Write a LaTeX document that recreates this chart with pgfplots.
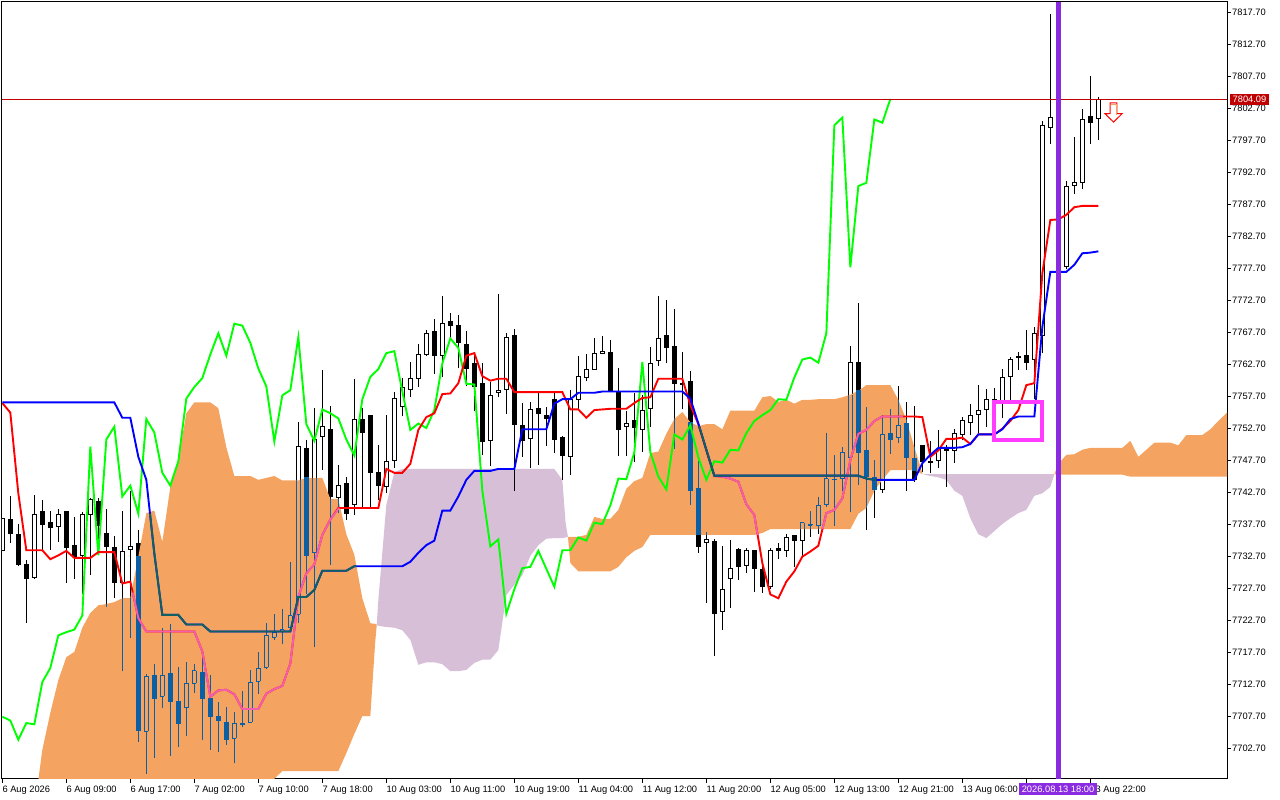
\documentclass[border=0pt]{standalone}
\usepackage{fontspec}
\setmainfont{Liberation Sans}
\usepackage{pgfplots}
\usepackage{pgfplotstable}
\pgfplotsset{compat=1.18}
\definecolor{cblue}{HTML}{0B5FA5}
\definecolor{corange}{HTML}{F4A460}
\definecolor{cthistle}{HTML}{D8BFD8}
\definecolor{cpink}{HTML}{F25FAE}
\definecolor{cteal}{HTML}{0F6060}
\definecolor{cviolet}{HTML}{8A2BE2}
\definecolor{cmag}{HTML}{FF3CFF}
\definecolor{cprice}{HTML}{C00000}
\newcommand\lbl{\fontsize{9.3}{11}\selectfont}

\pgfplotstableread{
k o h l c
0 7733.5 7738.6 7733.5 7738.6
1 7738.4 7742.1 7734.7 7736.2
2 7736.0 7737.7 7731.1 7731.3
3 7731.3 7732.1 7722.3 7729.2
4 7729.3 7742.2 7729.2 7739.2
5 7739.6 7741.5 7733.6 7737.6
6 7738.0 7739.7 7733.7 7737.1
7 7737.3 7740.0 7734.9 7739.2
8 7739.6 7739.6 7728.5 7734.0
9 7734.3 7738.8 7729.1 7732.6
10 7732.8 7739.6 7726.8 7739.2
11 7739.2 7741.7 7729.7 7741.6
12 7741.2 7741.7 7733.4 7737.4
13 7736.2 7740.0 7724.8 7734.2
14 7734.1 7735.8 7726.1 7728.5
15 7728.6 7739.7 7714.8 7733.4
16 7733.7 7742.9 7719.9 7734.2
17 7734.6 7736.7 7703.7 7705.4
18 7705.3 7714.3 7698.7 7713.9
19 7714.1 7715.8 7701.2 7710.4
20 7710.8 7721.4 7708.9 7714.1
21 7714.3 7722.1 7701.5 7709.9
22 7710.0 7715.3 7702.9 7706.5
23 7709.0 7716.1 7704.5 7712.8
24 7712.8 7715.8 7711.3 7714.8
25 7714.5 7716.7 7703.9 7710.4
26 7710.4 7714.1 7702.4 7707.6
27 7707.6 7709.9 7702.0 7707.0
28 7706.7 7709.1 7703.2 7704.0
29 7704.2 7708.3 7700.3 7706.6
30 7706.6 7711.6 7706.0 7706.4
31 7706.7 7714.9 7706.6 7713.0
32 7713.1 7717.7 7711.2 7715.2
33 7715.3 7722.2 7715.1 7720.3
34 7720.0 7723.6 7719.5 7720.8
35 7720.9 7724.4 7718.9 7721.2
36 7721.6 7731.7 7720.9 7723.4
37 7723.6 7753.7 7722.2 7749.8
38 7749.5 7750.8 7726.8 7732.8
39 7733.2 7755.9 7718.5 7750.9
40 7751.3 7761.8 7746.1 7752.9
41 7752.5 7756.2 7731.3 7742.0
42 7741.8 7746.9 7739.4 7743.7
43 7744.0 7745.1 7738.3 7739.3
44 7740.8 7760.4 7739.1 7754.1
45 7754.1 7755.8 7740.4 7752.0
46 7754.6 7754.6 7740.3 7745.7
47 7745.8 7750.0 7741.5 7743.7
48 7743.6 7754.7 7742.5 7747.5
49 7747.6 7758.3 7746.4 7757.3
50 7756.0 7760.5 7754.5 7759.1
51 7758.7 7763.0 7757.6 7760.5
52 7760.5 7765.8 7759.1 7764.2
53 7764.2 7768.0 7764.0 7767.5
54 7767.7 7769.7 7761.1 7764.0
55 7764.0 7773.3 7760.6 7769.0
56 7769.4 7770.6 7766.7 7768.7
57 7768.7 7770.4 7762.0 7766.0
58 7765.8 7767.9 7759.2 7762.0
59 7762.8 7764.6 7755.4 7759.2
60 7759.6 7762.8 7748.5 7750.6
61 7750.8 7759.9 7746.8 7757.8
62 7758.3 7773.7 7757.5 7758.6
63 7758.7 7767.5 7754.9 7766.9
64 7767.1 7768.1 7742.8 7753.3
65 7753.1 7756.6 7748.2 7750.7
66 7751.1 7756.7 7746.4 7755.6
67 7755.8 7758.2 7746.9 7755.0
68 7754.6 7756.0 7749.9 7754.2
69 7757.2 7758.1 7748.8 7750.9
70 7751.2 7751.4 7744.6 7748.4
71 7748.2 7758.7 7745.4 7757.2
72 7757.2 7764.0 7755.5 7760.7
73 7760.6 7764.3 7760.0 7761.9
74 7761.9 7766.7 7761.8 7764.4
75 7764.4 7767.1 7764.2 7764.7
76 7764.5 7766.4 7758.4 7758.4
77 7758.2 7762.0 7748.4 7752.4
78 7752.9 7755.3 7748.4 7753.4
79 7753.8 7758.2 7747.4 7752.7
80 7752.4 7757.9 7749.0 7755.5
81 7755.8 7765.3 7752.9 7762.8
82 7763.3 7773.3 7762.4 7766.7
83 7767.1 7772.7 7762.8 7765.2
84 7765.5 7771.3 7749.4 7759.6
85 7759.7 7764.6 7755.6 7759.5
86 7760.0 7761.6 7740.7 7742.9
87 7743.3 7747.5 7733.2 7734.2
88 7734.8 7736.5 7725.4 7735.3
89 7735.0 7735.3 7717.0 7723.7
90 7724.0 7734.2 7721.1 7727.5
91 7729.2 7735.2 7724.5 7730.8
92 7733.7 7734.0 7729.0 7731.0
93 7731.2 7733.9 7730.1 7733.5
94 7733.6 7733.6 7727.1 7730.7
95 7730.6 7731.6 7726.9 7727.9
96 7728.0 7733.9 7727.6 7733.6
97 7733.9 7734.8 7732.2 7733.6
98 7733.6 7736.1 7732.6 7735.6
99 7735.9 7736.0 7731.0 7735.1
100 7735.2 7737.9 7732.6 7737.9
101 7737.5 7739.8 7735.7 7737.7
102 7737.4 7741.9 7736.2 7740.6
103 7740.7 7751.9 7740.4 7744.8
104 7744.6 7748.5 7737.4 7744.7
105 7744.8 7749.7 7742.9 7748.9
106 7748.1 7765.5 7739.5 7763.0
107 7763.0 7772.2 7743.8 7748.9
108 7749.2 7756.0 7736.7 7745.1
109 7745.0 7747.7 7738.7 7743.1
110 7743.1 7754.7 7742.6 7751.7
111 7751.9 7755.6 7748.7 7750.9
112 7751.2 7759.2 7750.4 7753.1
113 7753.4 7756.8 7742.9 7748.1
114 7748.0 7756.1 7744.3 7744.6
115 7750.0 7750.0 7745.9 7747.5
116 7747.5 7750.7 7745.6 7747.3
117 7747.6 7752.4 7746.4 7749.3
118 7749.4 7750.0 7743.5 7749.2
119 7749.2 7752.6 7747.2 7751.9
120 7751.7 7754.4 7750.8 7753.8
121 7753.6 7756.5 7751.6 7754.7
122 7754.8 7759.4 7751.9 7755.5
123 7755.6 7758.8 7752.9 7757.2
124 7756.9 7758.9 7756.1 7757.1
125 7756.5 7761.9 7754.2 7760.6
126 7760.7 7763.8 7757.1 7763.4
127 7763.9 7764.5 7761.8 7763.7
128 7764.1 7768.0 7761.8 7762.9
129 7763.4 7768.5 7757.3 7767.5
130 7767.1 7800.7 7764.4 7800.0
131 7799.7 7817.4 7797.0 7801.2
132 7800.0 7803.0 7776.0 7777.8
133 7777.9 7791.3 7777.6 7790.5
134 7790.6 7798.2 7789.3 7791.0
135 7791.1 7802.6 7790.1 7800.9
136 7801.3 7807.7 7797.1 7800.4
137 7801.1 7804.4 7797.7 7804.1
}\candles

\pgfplotstableread{
k top bot
4 7693.0 7690
5 7702.4 7690
6 7708.2 7690
7 7713.3 7690
8 7716.9 7690
9 7717.7 7690
10 7721.5 7690
11 7723.8 7690
12 7725.0 7690
13 7725.2 7690
14 7725.5 7690
15 7726.1 7690
16 7726.1 7690
17 7732.6 7690
18 7739.4 7690
19 7739.8 7690
20 7734.9 7690
21 7743.5 7690
22 7747.7 7690
23 7755.0 7690
24 7756.7 7690
25 7756.7 7690
26 7756.7 7690
27 7755.8 7690
28 7749.7 7690
29 7745.2 7690
30 7745.2 7690
31 7745.2 7690
32 7744.6 7690
33 7744.9 7690
34 7745.2 7697.9
35 7744.5 7699.1
36 7744.5 7699.1
37 7744.5 7699.1
38 7744.9 7699.1
39 7744.9 7699.1
40 7744.9 7699.1
41 7741.6 7699.1
42 7741.6 7699.1
43 7736.1 7701.9
44 7732.9 7704.9
45 7726.1 7707.7
46 7722.2 7707.7
46.6 7722.1 7719.1
46.8 7722.0 7721.9
}\orangeA

\pgfplotstableread{
k top bot
46.8 7722.0 7721.9
47 7725.8 7721.8
48 7740.7 7721.6
49 7745.8 7721.5
50 7746.3 7721.1
51 7746.3 7719.6
52 7746.3 7715.7
53 7746.3 7716.1
54 7746.3 7716.1
55 7746.3 7715.8
56 7746.3 7714.7
57 7746.3 7714.7
58 7746.3 7714.9
59 7746.3 7716.0
60 7746.3 7716.5
61 7746.3 7716.5
62 7746.3 7718.0
63 7746.3 7726.6
64 7746.3 7728.2
65 7746.3 7729.7
66 7746.3 7732.7
67 7746.3 7734.4
68 7746.3 7735.4
69 7746.3 7735.5
70 7744.6 7735.5
70.4 7738.0 7735.6
70.7 7735.7 7735.7
}\thistleA

\pgfplotstableread{
k top bot
70.7 7735.7 7735.7
71 7735.7 7731.6
72 7735.7 7730.3
73 7736.0 7730.3
74 7738.8 7730.3
75 7738.5 7730.3
76 7738.5 7730.3
77 7739.9 7731.0
78 7743.2 7732.5
79 7744.4 7733.5
80 7744.9 7734.1
81 7748.8 7736.0
82 7749.0 7736.0
83 7751.8 7736.0
84 7754.1 7736.0
85 7755.2 7736.0
86 7753.6 7736.0
87 7753.0 7736.0
88 7753.3 7736.0
89 7753.3 7736.0
90 7752.5 7736.0
91 7755.4 7736.0
92 7755.4 7736.0
93 7755.4 7736.0
94 7755.4 7736.0
95 7757.5 7736.3
96 7757.7 7736.9
97 7756.8 7736.9
98 7757.1 7736.9
99 7756.5 7736.9
100 7757.1 7736.9
101 7757.1 7736.9
102 7757.2 7736.9
103 7757.2 7736.9
104 7757.2 7736.9
105 7757.5 7736.9
106 7757.9 7736.9
107 7758.5 7739.3
108 7759.4 7740.2
109 7759.4 7742.9
110 7759.4 7744.6
111 7759.4 7746.1
112 7757.1 7746.1
113 7754.0 7746.1
114 7749.7 7746.1
115 7745.7 7745.5
}\orangeB

\pgfplotstableread{
k top bot
115 7745.5 7745.5
116 7745.5 7745.2
117 7745.5 7745.0
118 7745.5 7744.6
119 7745.5 7742.9
120 7745.5 7742.1
121 7745.5 7738.6
122 7745.5 7736.1
123 7745.5 7735.5
124 7745.5 7736.6
125 7745.5 7737.7
126 7745.5 7738.6
127 7745.5 7739.4
128 7745.5 7739.9
129 7745.5 7742.1
130 7745.5 7742.5
131 7745.5 7743.5
131.5 7745.5 7745.5
}\thistleB

\pgfplotstableread{
k top bot
131.5 7745.5 7745.5
132 7747.1 7745.4
133 7748.5 7745.4
134 7748.6 7745.4
135 7749.3 7745.4
136 7749.6 7745.4
137 7749.6 7745.4
138 7749.6 7745.4
139 7749.6 7745.4
140 7749.6 7745.4
141 7750.7 7745.1
142 7748.2 7745.1
143 7749.3 7745.1
144 7750.4 7745.1
145 7750.4 7745.1
146 7750.4 7745.1
147 7750.0 7745.1
148 7751.6 7745.1
149 7751.6 7745.1
150 7751.6 7745.1
151 7752.5 7745.1
152 7753.8 7745.1
153 7755.0 7745.1
153.2 7755.4 7745.1
}\orangeC

% Tenkan-sen
\pgfplotstableread{
k y
0 7756.6
1 7755.1
2 7742.5
3 7733.6
4 7733.6
5 7733.6
6 7732.2
7 7732.8
8 7733.5
9 7732.4
10 7732.4
11 7732.4
12 7733.3
13 7733.3
14 7733.3
15 7728.4
16 7728.7
17 7723.0
18 7720.9
19 7720.9
20 7720.9
21 7720.9
22 7720.9
23 7720.9
24 7720.9
25 7717.8
26 7710.7
27 7711.7
28 7711.8
29 7711.1
30 7708.8
31 7708.8
32 7708.8
33 7711.2
34 7711.9
35 7712.4
36 7715.9
37 7726.3
38 7730.0
39 7731.4
40 7736.0
41 7738.4
42 7740.2
43 7740.2
44 7740.2
45 7740.2
46 7740.2
47 7740.2
48 7746.3
49 7745.7
50 7745.7
51 7747.1
52 7752.4
53 7754.4
54 7755.0
55 7758.0
56 7758.1
57 7759.7
58 7764.0
59 7764.4
60 7760.8
61 7760.1
62 7760.4
63 7760.4
64 7758.3
65 7758.3
66 7758.3
67 7758.3
68 7758.3
69 7758.3
70 7758.3
71 7755.6
72 7755.6
73 7754.3
74 7755.5
75 7755.6
76 7755.7
77 7755.7
78 7755.7
79 7756.6
80 7757.4
81 7757.5
82 7760.4
83 7760.4
84 7760.4
85 7760.4
86 7756.3
87 7753.3
88 7749.2
89 7745.2
90 7745.1
91 7744.8
92 7744.3
93 7740.8
94 7739.1
95 7731.6
96 7726.7
97 7726.1
98 7728.7
99 7730.3
100 7732.6
101 7733.4
102 7734.3
103 7739.4
104 7739.9
105 7741.7
106 7747.7
107 7751.8
108 7752.4
109 7753.8
110 7754.5
111 7754.5
112 7754.5
113 7754.5
114 7754.5
115 7754.4
116 7748.2
117 7749.2
118 7751.0
119 7751.0
120 7751.2
121 7750.2
122 7751.7
123 7751.7
124 7751.7
125 7752.6
126 7753.8
127 7755.5
128 7759.4
129 7759.7
130 7776.9
131 7785.2
132 7785.3
133 7786.0
134 7787.2
135 7787.4
136 7787.4
137 7787.4
}\tenkan

% Kijun-sen
\pgfplotstableread{
k y
0 7756.7
14 7756.7
15 7754.3
16 7754.3
17 7748.2
18 7744.6
19 7733.1
20 7723.5
21 7723.5
22 7723.5
23 7722.0
24 7722.0
25 7722.0
26 7720.9
36 7720.9
37 7726.3
38 7726.3
39 7727.4
40 7730.4
41 7730.4
42 7730.4
43 7730.4
44 7731.1
50 7731.1
51 7731.8
52 7733.2
53 7734.4
54 7735.1
55 7739.8
56 7739.8
57 7742.0
58 7744.6
59 7746.0
60 7746.0
61 7746.0
62 7746.3
63 7746.3
64 7746.3
65 7752.5
66 7752.5
67 7752.5
68 7752.5
69 7756.5
70 7757.2
71 7757.2
72 7758.2
73 7758.2
74 7758.2
75 7758.4
85 7758.4
86 7757.3
87 7753.4
88 7749.3
89 7745.25
107 7745.25
108 7744.8
109 7744.6
114 7744.6
115 7747.2
116 7748.5
117 7749.6
118 7749.6
119 7749.6
120 7749.7
121 7750.2
122 7751.7
123 7751.7
124 7751.7
125 7752.5
126 7754.1
127 7754.5
128 7754.5
129 7754.5
130 7768.5
131 7777.1
132 7777.1
133 7777.1
134 7778.2
135 7780.0
136 7780.1
137 7780.3
}\kijun

% one closed outline from a table of top and bottom edges
\newcommand\cloudpoly[2]{%
  \pgfplotstablegetrowsof{#1}\pgfmathtruncatemacro\nlast{\pgfplotsretval-1}%
  \gdef\poly{}%
  \pgfplotsforeachungrouped \ri in {0,...,\nlast}{%
    \pgfplotstablegetelem{\ri}{k}\of#1\edef\pk{\pgfplotsretval}%
    \pgfplotstablegetelem{\ri}{top}\of#1\edef\pv{\pgfplotsretval}%
    \xdef\poly{\poly(\pk,\pv)}%
  }%
  \pgfplotsforeachungrouped \ri in {\nlast,...,0}{%
    \pgfplotstablegetelem{\ri}{k}\of#1\edef\pk{\pgfplotsretval}%
    \pgfplotstablegetelem{\ri}{bot}\of#1\edef\pv{\pgfplotsretval}%
    \xdef\poly{\poly(\pk,\pv)}%
  }%
  \edef\tmp{\noexpand\addplot[fill=#2,draw=none] coordinates {\poly} --cycle;}\tmp
}

\begin{document}
\begin{tikzpicture}
\path[use as bounding box] (0pt,0pt) rectangle (1280pt,800pt);
\begin{axis}[
  at={(2pt,21pt)}, anchor=south west, scale only axis,
  width=1225pt, height=777pt,
  xmin=-0.04, xmax=153.08, ymin=7697.86, ymax=7819.26,
  clip mode=individual,
  axis line style={black,line width=1pt},
  tick style={black,line width=0.8pt},
  tick align=outside, major tick length=4pt,
  xtick pos=bottom, ytick pos=right,
  xtick={0,8,16,24,32,40,48,56,64,72,80,88,96,104,112,120,128,136},
  xticklabels={6 Aug 2026,6 Aug 09:00,6 Aug 17:00,7 Aug 02:00,7 Aug 10:00,7 Aug 18:00,10 Aug 03:00,10 Aug 11:00,10 Aug 19:00,11 Aug 04:00,11 Aug 12:00,11 Aug 20:00,12 Aug 05:00,12 Aug 13:00,12 Aug 21:00,13 Aug 06:00,,13 Aug 22:00},
  x tick label style={anchor=north west,inner sep=0pt,font=\lbl,yshift=-2.5pt},
  ytick={7702.7,7707.7,7712.7,7717.7,7722.7,7727.7,7732.7,7737.7,7742.7,7747.7,7752.7,7757.7,7762.7,7767.7,7772.7,7777.7,7782.7,7787.7,7792.7,7797.7,7802.7,7807.7,7812.7,7817.7},
  y tick label style={font=\lbl,inner xsep=1pt,
    /pgf/number format/.cd,fixed,fixed zerofill,precision=2,1000 sep={},assume math mode=true},
  scaled y ticks=false,
  every axis plot/.append style={forget plot},
]
% thistle cloud (candles stay black over it)
\cloudpoly{\thistleA}{cthistle}
\cloudpoly{\thistleB}{cthistle}

% candles, black
\pgfplotsforeachungrouped \i in {0,...,137}{
  \pgfplotstablegetelem{\i}{o}\of\candles \edef\cO{\pgfplotsretval}
  \pgfplotstablegetelem{\i}{h}\of\candles \edef\cH{\pgfplotsretval}
  \pgfplotstablegetelem{\i}{l}\of\candles \edef\cL{\pgfplotsretval}
  \pgfplotstablegetelem{\i}{c}\of\candles \edef\cC{\pgfplotsretval}
  \pgfmathsetmacro\bt{max(\cO,\cC)}
  \pgfmathsetmacro\bb{min(\cO,\cC)}
  \pgfmathsetmacro\xl{\i-0.25}
  \pgfmathsetmacro\xr{\i+0.25}
  \ifdim\cC pt>\cO pt \def\fc{white}\else \def\fc{black}\fi
  \edef\tmp{\noexpand\addplot[black,line width=1pt,unbounded coords=jump] coordinates {(\i,\cL)(\i,\bb)(\i,nan)(\i,\bt)(\i,\cH)};
    \noexpand\addplot[draw=black,line width=1pt,fill=\fc] coordinates {(\xl,\bb)(\xr,\bb)(\xr,\bt)(\xl,\bt)} --cycle;}
  \tmp
}

% orange cloud
\cloudpoly{\orangeA}{corange}
\cloudpoly{\orangeB}{corange}
\cloudpoly{\orangeC}{corange}

% the parts of the candles that lie inside the orange cloud, blue
\pgfplotsforeachungrouped \i in {4,...,115}{
  \def\hascloud{0}
  \ifnum\i<47
    \pgfmathtruncatemacro\r{\i-4}
    \pgfplotstablegetelem{\r}{top}\of\orangeA \edef\ct{\pgfplotsretval}
    \pgfplotstablegetelem{\r}{bot}\of\orangeA \edef\cb{\pgfplotsretval}
    \def\hascloud{1}
  \else\ifnum\i>70
    \pgfmathtruncatemacro\r{\i-70}
    \pgfplotstablegetelem{\r}{top}\of\orangeB \edef\ct{\pgfplotsretval}
    \pgfplotstablegetelem{\r}{bot}\of\orangeB \edef\cb{\pgfplotsretval}
    \def\hascloud{1}
  \fi\fi
  \ifnum\hascloud=1
    \pgfplotstablegetelem{\i}{o}\of\candles \edef\cO{\pgfplotsretval}
    \pgfplotstablegetelem{\i}{h}\of\candles \edef\cH{\pgfplotsretval}
    \pgfplotstablegetelem{\i}{l}\of\candles \edef\cL{\pgfplotsretval}
    \pgfplotstablegetelem{\i}{c}\of\candles \edef\cC{\pgfplotsretval}
    \pgfmathsetmacro\bt{max(\cO,\cC)}
    \pgfmathsetmacro\bb{min(\cO,\cC)}
    \pgfmathsetmacro\xl{\i-0.25}
    \pgfmathsetmacro\xr{\i+0.25}
    % lower wick
    \pgfmathsetmacro\wa{max(\cL,\cb)}
    \pgfmathsetmacro\wb{min(\bb,\ct)}
    \ifdim\wb pt>\wa pt
      \edef\tmp{\noexpand\addplot[cblue,line width=1pt] coordinates {(\i,\wa)(\i,\wb)};}\tmp
    \fi
    % upper wick
    \pgfmathsetmacro\wa{max(\bt,\cb)}
    \pgfmathsetmacro\wb{min(\cH,\ct)}
    \ifdim\wb pt>\wa pt
      \edef\tmp{\noexpand\addplot[cblue,line width=1pt] coordinates {(\i,\wa)(\i,\wb)};}\tmp
    \fi
    % body
    \pgfmathsetmacro\wa{max(\bb,\cb)}
    \pgfmathsetmacro\wb{min(\bt,\ct)}
    \ifdim\wb pt>\wa pt
      \ifdim\cC pt>\cO pt
        \edef\tmp{\noexpand\addplot[cblue,line width=1pt,unbounded coords=jump] coordinates {(\xl,\wa)(\xl,\wb)(\xl,nan)(\xr,\wa)(\xr,\wb)};}\tmp
        \ifdim\bt pt<\ct pt
          \edef\tmp{\noexpand\addplot[cblue,line width=1pt] coordinates {(\xl,\bt)(\xr,\bt)};}\tmp
        \fi
        \ifdim\bb pt>\cb pt
          \edef\tmp{\noexpand\addplot[cblue,line width=1pt] coordinates {(\xl,\bb)(\xr,\bb)};}\tmp
        \fi
      \else
        \edef\tmp{\noexpand\addplot[draw=cblue,line width=1pt,fill=cblue] coordinates {(\xl,\wa)(\xr,\wa)(\xr,\wb)(\xl,\wb)} --cycle;}\tmp
      \fi
    \fi
  \fi
}

% Chikou span: the closes, 26 bars back
\addplot[color=green,line width=1.9pt,skip coords between index={0}{26}] table[x expr=\thisrow{k}-26,y=c]{\candles};

% Tenkan-sen, pink where it runs over the orange cloud
\addplot[color=red,line width=1.9pt] table[x=k,y=y]{\tenkan};
\addplot[color=cpink,line width=1.9pt] coordinates {(16.3,7727.0)(17,7723.0)(18,7720.9)(24,7720.9)(25,7717.8)(26,7710.7)(27,7711.7)(28,7711.8)(29,7711.1)(30,7708.8)(32,7708.8)(33,7711.2)(34,7711.9)(35,7712.4)(36,7715.9)(37,7726.3)(38,7730.0)(39,7731.4)(40,7736.0)(41,7738.4)(42.1,7740.2)};
\addplot[color=cpink,line width=1.9pt] coordinates {(89,7745.2)(90,7745.1)(91,7744.8)(92,7744.3)(93,7740.8)(94,7739.1)(94.41,7736.0)};
\addplot[color=cpink,line width=1.9pt] coordinates {(102.52,7736.9)(103,7739.4)(104,7739.9)(105,7741.7)(106,7747.7)(107,7751.8)(108,7752.4)(109,7753.8)(110,7754.5)(112.6,7754.5)};

% Kijun-sen, dark teal where it runs over the orange cloud
\addplot[color=blue,line width=1.9pt] table[x=k,y=y]{\kijun};
\addplot[color=cteal,line width=1.9pt] coordinates {(18.46,7739.3)(19,7733.1)(20,7723.5)(22,7723.5)(23,7722.0)(25,7722.0)(26,7720.9)(36,7720.9)(37,7726.3)(38,7726.3)(39,7727.4)(40,7730.4)(43,7730.4)(44,7731.1)(44.3,7731.1)};
\addplot[color=cteal,line width=1.9pt] coordinates {(87.1,7753.0)(88,7749.3)(89,7745.25)(107,7745.25)(108,7744.8)(109,7744.6)(109.3,7744.6)};

% last price line
\addplot[color=cprice,line width=0.8pt] coordinates {(-0.04,7804.09)(153.08,7804.09)};
% magenta rectangle
\addplot[color=cmag,line width=4pt] coordinates {(124,7750.8)(130,7750.8)(130,7756.8)(124,7756.8)} --cycle;
% vertical line
\addplot[color=cviolet,line width=5pt] coordinates {(132,7697.86)(132,7819.26)};
% arrow
\addplot[draw=red,fill=white,line width=1pt] coordinates {(138.46,7803.5)(139.33,7803.5)(139.33,7801.8)(139.96,7801.8)(138.9,7800.5)(137.84,7801.8)(138.46,7801.8)} --cycle;
\addplot[draw=corange,line width=0.6pt] coordinates {(138.58,7803.3)(139.21,7803.3)(139.21,7801.6)};
\end{axis}
\node[fill=cviolet,text=white,font=\lbl,inner sep=0pt,minimum width=78pt,minimum height=11.5pt] at (1058pt,11pt) {2026.08.13 18:00};
\node[fill=cprice,text=white,font=\lbl,inner sep=0pt,minimum width=39pt,minimum height=11.5pt] at (1249.5pt,700.5pt) {7804.09};
\end{tikzpicture}
\end{document}
